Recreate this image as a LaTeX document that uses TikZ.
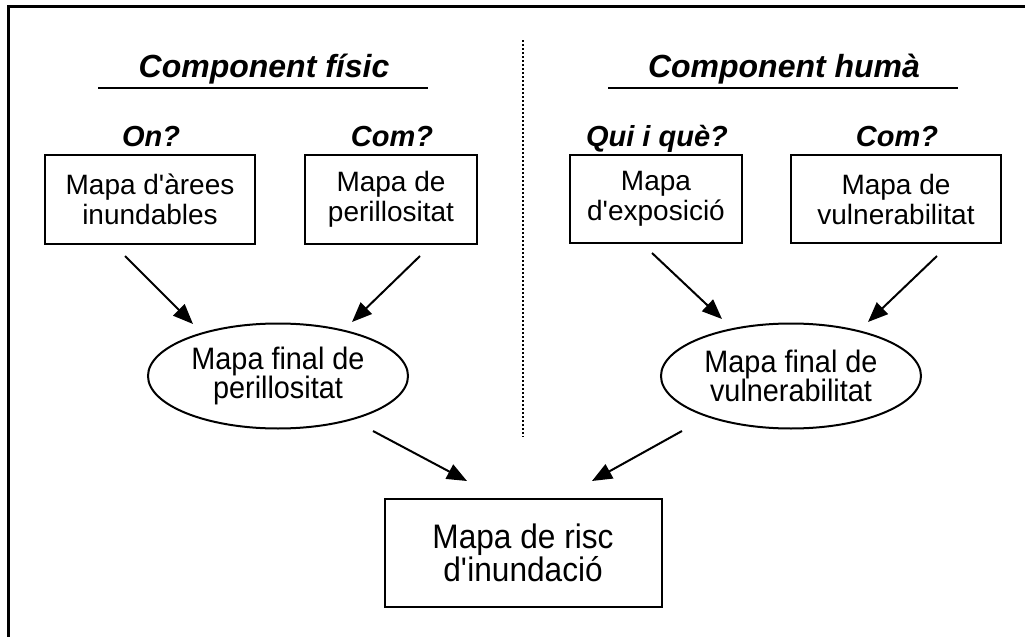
\documentclass[tikz,border=0pt]{standalone}
\usepackage{fontspec}
\setmainfont{Liberation Sans}
\newfontfamily\narrowsf{Liberation Sans}[FakeStretch=0.93]
\usepackage{xcolor}
\usepackage{tikz}
\usetikzlibrary{calc,arrows.meta,shapes.geometric}
\definecolor{ink}{HTML}{000000}
\newcommand\ap{\textquotesingle}
\tikzset{
  box/.style={draw=ink, line width=1pt, align=center, inner sep=0pt, font=\fontsize{14}{15}\selectfont},
  oval/.style={draw=ink, ellipse, line width=1pt, inner sep=0pt, align=center, minimum width=130pt, minimum height=52.5pt, font=\narrowsf\fontsize{15.5}{14.5}\selectfont},
  arr/.style={draw=ink, line width=1pt, -{Triangle[length=10pt,width=8pt]}},
  head/.style={anchor=base, font=\bfseries\itshape\fontsize{16}{18}\selectfont},
  ask/.style={anchor=base, font=\bfseries\itshape\fontsize{14.5}{16}\selectfont},
  rule/.style={draw=ink, line width=1.3pt},
  sep/.style={draw=ink, line width=1pt, dash pattern=on 1pt off 1pt},
  frame/.style={draw=ink, line width=1.5pt},
}

\begin{document}
\begin{tikzpicture}[x=0.5pt,y=-0.5pt]
  \useasboundingbox (0,0) rectangle (1025,637);
  % frame: only top and left edges show
  \draw[frame] (1025,6.5) -- (8.5,6.5) -- (8.5,637);
  \draw[sep] (523,40) -- (523,437);
  % headings
  \node[head] (hfis) at (264,77) {Component físic};
  \node[head] (hhum) at (784,77) {Component humà};
  \draw[rule] (98,88) -- (428,88);
  \draw[rule] (608,88) -- (958,88);
  % questions
  \node[ask] (qon)  at (151,147) {On?};
  \node[ask] (qcom) at (392,147) {Com?};
  \node[ask] (qqui) at (657,147) {Qui i què?};
  \node[ask] (qcom2) at (897,147) {Com?};
  % maps
  \node[box, minimum width=105pt, minimum height=44.5pt] (arees) at (150,199.5) {Mapa d\ap àrees\\inundables};
  \node[box, minimum width=86pt, minimum height=44.5pt] (perill) at (391,199.5) {Mapa de\\perillositat};
  \node[box, minimum width=86pt, minimum height=44pt] (expos) at (656,199) {Mapa\\d\ap exposició};
  \node[box, minimum width=105pt, minimum height=44pt] (vulner) at (896,199) {Mapa de\\vulnerabilitat};
  \node[oval] (fisfin) at (278,376) {Mapa final de\\perillositat};
  \node[oval] (humfin) at (791,376) {Mapa final de\\vulnerabilitat};
  \node[box, minimum width=138.5pt, minimum height=54pt, font=\narrowsf\fontsize{17}{16.5}\selectfont] (risc) at (523,553) {Mapa de risc\\d\ap inundació};
  % arrows
  \draw[arr] ($(arees.south)+(-25,11)$) -- ($(fisfin.north)+(-85,1.5)$);
  \draw[arr] ($(perill.south)+(29,11)$) -- ($(fisfin.north)+(74,-0.5)$);
  \draw[arr] ($(expos.south)+(-4,9)$) -- ($(humfin.north)+(-69,-3.5)$);
  \draw[arr] ($(vulner.south)+(41,12)$) -- ($(humfin.north)+(77,-0.5)$);
  \draw[arr] ($(fisfin.south)+(95,1.5)$) -- ($(risc.north)+(-56,-17)$);
  \draw[arr] ($(humfin.south)+(-109,1.5)$) -- ($(risc.north)+(69,-17)$);
\end{tikzpicture}
\end{document}
